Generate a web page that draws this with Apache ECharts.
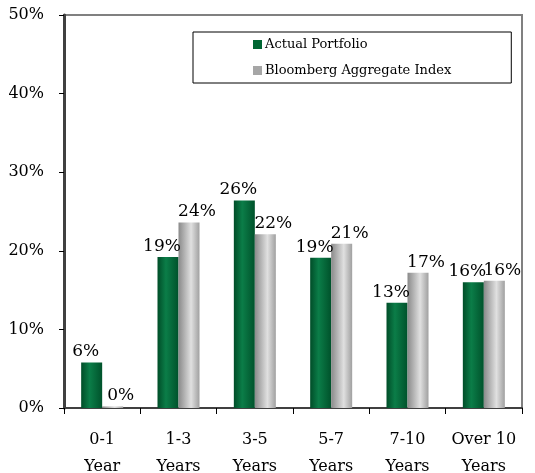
<!DOCTYPE html>
<html><head><meta charset="utf-8">
<script src="https://cdn.jsdelivr.net/npm/echarts@6/dist/echarts.min.js"></script>
<style>html,body{margin:0;padding:0;background:#fff}#c{width:535px;height:473px}</style>
</head><body><div id="c"></div>
<script>
var categories = ['0-1\nYear', '1-3\nYears', '3-5\nYears', '5-7\nYears', '7-10\nYears', 'Over 10\nYears'];
var actualPortfolio = [5.8, 19.2, 26.4, 19.1, 13.4, 16.0];
var bloombergIndex = [0.2, 23.6, 22.1, 20.9, 17.2, 16.2];
var yTicks = [0, 10, 20, 30, 40, 50];

var FONT = 'DejaVu Serif';
function grad(a, pos, b, c) {
  return new echarts.graphic.LinearGradient(0, 0, 1, 0, [
    {offset: 0, color: a}, {offset: pos, color: b}, {offset: 1, color: c}
  ]);
}
var chart = echarts.init(document.getElementById('c'), null, {renderer: 'canvas'});
chart.setOption({
  animation: false,
  backgroundColor: '#fff',
  textStyle: {fontFamily: FONT, color: '#000'},
  grid: {left: 64, right: 13, top: 15, bottom: 65, containLabel: false, outerBoundsMode: 'none',
    show: true, borderColor: '#808080', borderWidth: 2, backgroundColor: '#fff'},
  legend: {
    orient: 'vertical', left: 193, top: 32,
    padding: [6, 60, 6, 60], itemGap: 13,
    itemWidth: 9, itemHeight: 9, icon: 'rect',
    borderColor: '#000', borderWidth: 1,
    textStyle: {fontFamily: FONT, fontSize: 13, color: '#000', padding: [0, 0, 0, -2]},
    data: [
      {name: 'Actual Portfolio', itemStyle: {color: '#006633'}},
      {name: 'Bloomberg Aggregate Index', itemStyle: {color: '#a6a6a6'}}
    ]
  },
  xAxis: {
    type: 'category', data: categories,
    axisLine: {lineStyle: {color: '#404040', width: 2}},
    axisTick: {show: true, alignWithLabel: false, length: 6, lineStyle: {color: '#000', width: 1}},
    axisLabel: {fontFamily: FONT, fontSize: 16, color: '#000', lineHeight: 27, margin: 18, interval: 0}
  },
  yAxis: {
    type: 'value', min: 0, max: 50, interval: 10,
    splitLine: {show: false},
    axisLine: {show: true, lineStyle: {color: '#404040', width: 3}},
    axisTick: {show: true, length: 5, lineStyle: {color: '#000', width: 1}},
    axisLabel: {fontFamily: FONT, fontSize: 16, color: '#000', margin: 20,
      formatter: function (v) { return yTicks.indexOf(v) >= 0 ? v + '%' : ''; }}
  },
  series: [
    {
      name: 'Actual Portfolio', type: 'bar', data: actualPortfolio,
      barWidth: 21, barGap: '0%',
      itemStyle: {color: grad('#004d28', 0.4, '#0b7d48', '#00522b')},
      label: {show: true, position: 'top', distance: 2, offset: [-6, 0], fontFamily: FONT, fontSize: 17, color: '#000',
        formatter: function (p) { return Math.round(p.value) + '%'; }}
    },
    {
      name: 'Bloomberg Aggregate Index', type: 'bar', data: bloombergIndex,
      barWidth: 21,
      itemStyle: {color: grad('#8a8a8a', 0.6, '#e0e0e0', '#a0a0a0')},
      label: {show: true, position: 'top', distance: 2, offset: [8, 0], fontFamily: FONT, fontSize: 17, color: '#000',
        formatter: function (p) { return Math.round(p.value) + '%'; }}
    }
  ]
});
</script></body></html>
